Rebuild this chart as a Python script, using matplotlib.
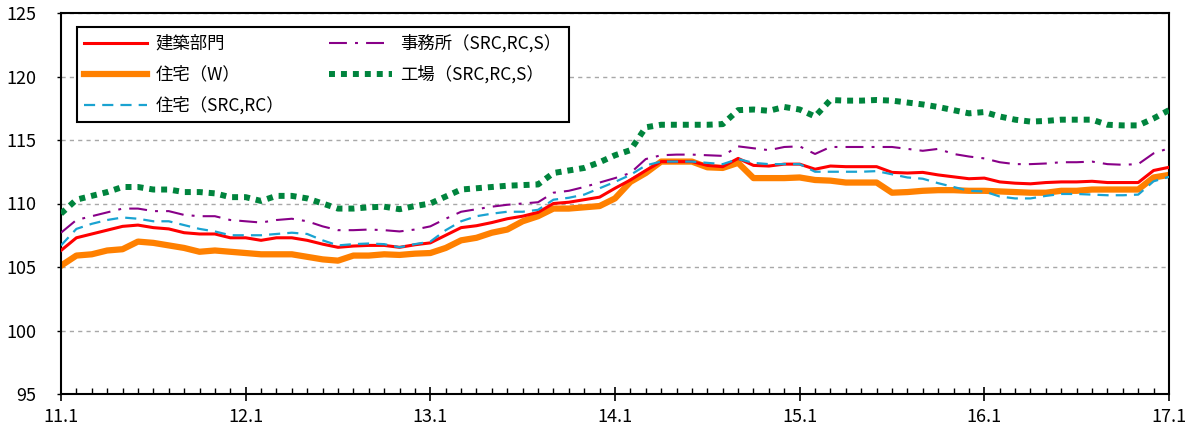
import matplotlib
matplotlib.use("Agg")
import matplotlib.pyplot as plt
import numpy as np

plt.rcParams['font.family'] = ['Noto Sans CJK JP', 'DejaVu Sans']

# monthly, 2011.1 .. 2017.1
years = ["11.1", "12.1", "13.1", "14.1", "15.1", "16.1", "17.1"]

kenchiku = [106.3, 107.3, 107.6, 107.9, 108.2, 108.3, 108.1, 108.0, 107.7, 107.6, 107.6, 107.3,
            107.3, 107.1, 107.3, 107.3, 107.1, 106.8, 106.55, 106.65, 106.7, 106.7, 106.55, 106.75,
            106.9, 107.5, 108.1, 108.25, 108.5, 108.8, 109.0, 109.3, 110.0, 110.1, 110.3, 110.5,
            111.2, 111.85, 112.6, 113.3, 113.3, 113.3, 113.0, 112.9, 113.55, 113.0, 112.95, 113.1,
            113.1, 112.7, 112.95, 112.9, 112.9, 112.9, 112.45, 112.4, 112.45, 112.25, 112.1, 111.95,
            112.0, 111.7, 111.6, 111.55, 111.65, 111.7, 111.7, 111.75, 111.65, 111.65, 111.65, 112.6,
            112.85]

jutaku_w = [105.1, 105.9, 106.0, 106.3, 106.4, 107.0, 106.9, 106.7, 106.5, 106.2, 106.3, 106.2,
            106.1, 106.0, 106.0, 106.0, 105.8, 105.6, 105.5, 105.9, 105.9, 106.0, 105.95, 106.05,
            106.1, 106.5, 107.1, 107.3, 107.7, 107.95, 108.6, 109.0, 109.6, 109.6, 109.7, 109.8,
            110.4, 111.7, 112.4, 113.3, 113.3, 113.3, 112.85, 112.8, 113.2, 112.0, 112.0, 112.0,
            112.05, 111.85, 111.8, 111.65, 111.65, 111.65, 110.85, 110.9, 111.0, 111.05, 111.05, 111.0,
            111.0, 110.95, 110.9, 110.85, 110.85, 111.0, 111.0, 111.1, 111.1, 111.1, 111.1, 112.05,
            112.25]

jutaku_rc = [106.7, 108.0, 108.4, 108.7, 108.9, 108.8, 108.6, 108.6, 108.3, 108.0, 107.8, 107.5,
             107.5, 107.5, 107.6, 107.7, 107.6, 107.1, 106.7, 106.8, 106.85, 106.8, 106.55, 106.8,
             107.0, 107.9, 108.6, 109.0, 109.2, 109.35, 109.35, 109.5, 110.3, 110.45, 110.7, 111.2,
             111.7, 112.25, 113.0, 113.3, 113.3, 113.3, 113.2, 113.1, 113.5, 113.2, 113.1, 113.1,
             113.1, 112.5, 112.5, 112.5, 112.5, 112.55, 112.3, 112.05, 111.95, 111.6, 111.3, 111.0,
             110.95, 110.55, 110.4, 110.4, 110.6, 110.75, 110.75, 110.7, 110.65, 110.65, 110.7, 111.75,
             112.1]

jimusho = [107.7, 108.7, 109.0, 109.3, 109.6, 109.6, 109.4, 109.4, 109.1, 109.0, 109.0, 108.7,
           108.6, 108.5, 108.7, 108.8, 108.6, 108.2, 107.9, 107.9, 107.95, 107.9, 107.8, 107.95,
           108.2, 108.8, 109.35, 109.55, 109.75, 109.9, 110.0, 110.1, 110.85, 111.0, 111.3, 111.65,
           112.0, 112.4, 113.5, 113.8, 113.85, 113.85, 113.8, 113.75, 114.5, 114.35, 114.2, 114.45,
           114.5, 113.9, 114.45, 114.45, 114.45, 114.45, 114.45, 114.3, 114.15, 114.3, 113.9, 113.7,
           113.55, 113.25, 113.1, 113.1, 113.15, 113.25, 113.25, 113.3, 113.1, 113.05, 113.1, 113.95,
           114.35]

kojo = [109.2, 110.3, 110.6, 110.9, 111.3, 111.3, 111.1, 111.1, 110.9, 110.9, 110.8, 110.5,
        110.5, 110.2, 110.6, 110.6, 110.4, 110.0, 109.6, 109.6, 109.7, 109.75, 109.55, 109.8,
        110.0, 110.55, 111.1, 111.2, 111.3, 111.4, 111.45, 111.5, 112.4, 112.6, 112.8, 113.25,
        113.8, 114.2, 116.0, 116.2, 116.2, 116.2, 116.2, 116.25, 117.35, 117.4, 117.3, 117.6,
        117.4, 116.85, 118.15, 118.1, 118.1, 118.15, 118.1, 117.95, 117.8, 117.6, 117.35, 117.1,
        117.2, 116.85, 116.6, 116.45, 116.5, 116.6, 116.6, 116.6, 116.2, 116.15, 116.15, 116.7,
        117.35]

labels = ["建築部門", "住宅（W）", "住宅（SRC,RC）", "事務所（SRC,RC,S）", "工場（SRC,RC,S）"]

x = np.arange(len(kenchiku))

fig = plt.figure(figsize=(11.94, 4.29), dpi=100)
ax = fig.add_axes([61/1194, 1-394/429, (1169-61)/1194, (394-13)/429])

ax.plot(x, kenchiku, color='#FF0000', lw=2.2, label=labels[0], zorder=3)
ax.plot(x, jutaku_w, color='#FF8000', lw=4.5, label=labels[1], zorder=2)
ax.plot(x, jutaku_rc, color='#1AA3D1', lw=1.6, ls=(0, (5, 3.2)), label=labels[2], zorder=4)
ax.plot(x, jimusho, color='#880088', lw=1.5, ls=(0, (8.6, 3.9, 1.4, 3.9)), label=labels[3], zorder=4)
ax.plot(x, kojo, color='#00843D', lw=4.3, ls=(0, (1, 1)), dash_capstyle='butt', label=labels[4], zorder=4)

ax.set_xlim(0, 72)
ax.set_ylim(95, 125)
ax.set_yticks(np.arange(95, 126, 5))
ax.set_xticks(np.arange(0, 73, 12))
ax.set_xticklabels(years)
ax.set_xticks(np.arange(0, 73, 1), minor=True)

ax.yaxis.grid(True, color='#a8a8a8', lw=1.0, ls=(0, (3, 3)))
ax.set_axisbelow(True)

for s in ax.spines.values():
    s.set_linewidth(1.5)
    s.set_color('black')

ax.tick_params(axis='y', direction='out', length=3, width=1, pad=15, labelsize=13)
ax.tick_params(axis='x', which='major', direction='inout', length=10, width=1.2, pad=5, labelsize=13)
ax.tick_params(axis='x', which='minor', direction='in', length=4, width=1)

leg = ax.legend(loc='upper left', bbox_to_anchor=((77-61)/1108, (394-27)/381), borderaxespad=0,
                ncol=2, fontsize=12.5, frameon=True, fancybox=False, handlelength=3.6,
                handletextpad=0.5, columnspacing=2.6, labelspacing=0.75, borderpad=0.42)
leg.get_frame().set_edgecolor('black')
leg.get_frame().set_linewidth(1.5)
leg.get_frame().set_alpha(1)

fig.savefig("out.png", dpi=100)
